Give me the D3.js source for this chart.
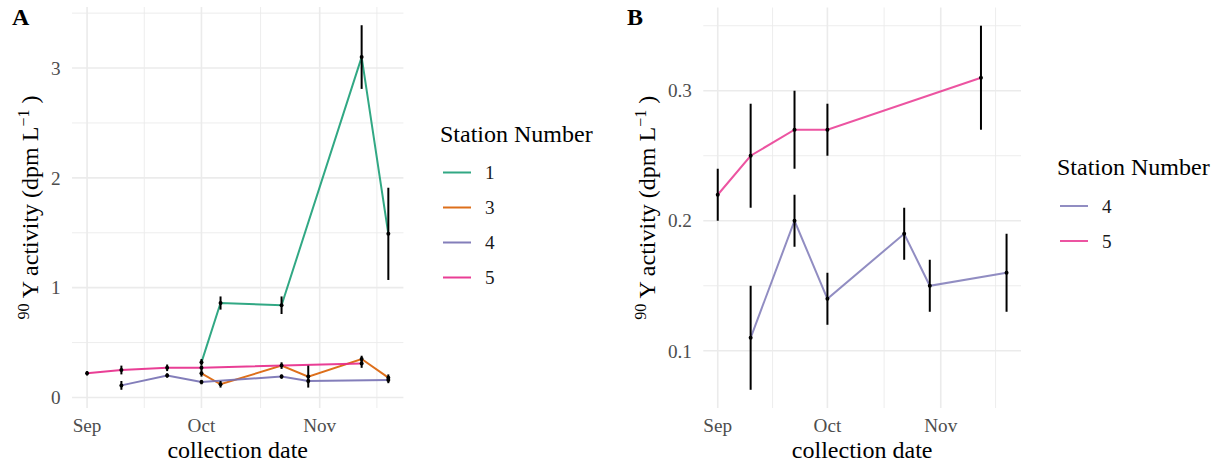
<!DOCTYPE html>
<html>
<head>
<meta charset="utf-8">
<script src="https://cdn.jsdelivr.net/npm/d3@7"></script>
<style>
  body { margin: 0; background: #fff; }
  svg, text, tspan { font-family: "Liberation Serif", "DejaVu Serif", serif; }
</style>
</head>
<body>
<svg id="chart" width="1219" height="465" font-family="Liberation Serif, serif"></svg>
<script>
// station series (dates, 90Y activity, +/- error)
var st1Dates = ["2019-10-01", "2019-10-06", "2019-10-22", "2019-11-12", "2019-11-19"];
var st1Vals = [0.32, 0.86, 0.84, 3.10, 1.49];
var st1Err = [0.03, 0.06, 0.08, 0.29, 0.42];

var st3Dates = ["2019-10-01", "2019-10-06", "2019-10-22", "2019-10-29", "2019-11-12", "2019-11-19"];
var st3Vals = [0.22, 0.12, 0.29, 0.19, 0.35, 0.18];
var st3Err = [0.03, 0.03, 0.03, 0.10, 0.03, 0.03];

var st4Dates = ["2019-09-10", "2019-09-22", "2019-10-01", "2019-10-22", "2019-10-29", "2019-11-19"];
var st4Vals = [0.11, 0.20, 0.14, 0.19, 0.15, 0.16];
var st4Err = [0.04, 0.02, 0.02, 0.02, 0.02, 0.03];

var st5Dates = ["2019-09-01", "2019-09-10", "2019-09-22", "2019-10-01", "2019-11-12"];
var st5Vals = [0.22, 0.25, 0.27, 0.27, 0.31];
var st5Err = [0.02, 0.04, 0.03, 0.02, 0.04];

var stationNames = ["1", "3", "4", "5"];
var stationColors = ["#1B9E77", "#D95F02", "#7570B3", "#E7298A"];

// tick labels
var xTickDates = ["2019-09-01", "2019-10-01", "2019-11-01"];
var xTickLabels = ["Sep", "Oct", "Nov"];
var yTicksA = [0, 1, 2, 3];
var yTicksB = [0.1, 0.2, 0.3];

var parse = d3.utcParse("%Y-%m-%d");
var svg = d3.select("#chart");
var FONT = "'Liberation Serif', 'DejaVu Serif', serif";

function makeSeries(idx, dates, vals, errs) {
	return {
		name: stationNames[idx],
		color: stationColors[idx],
		points: dates.map(function (d, i) {
			return { date: parse(d), v: vals[i], e: errs[i] };
		})
	};
}

var seriesAll = [
	makeSeries(0, st1Dates, st1Vals, st1Err),
	makeSeries(1, st3Dates, st3Vals, st3Err),
	makeSeries(2, st4Dates, st4Vals, st4Err),
	makeSeries(3, st5Dates, st5Vals, st5Err)
];

function drawPanel(opt) {
	var series = opt.series;
	var pts = [];
	series.forEach(function (s) { pts = pts.concat(s.points); });

	// ggplot style 5% expansion
	var tmin = d3.min(pts, function (d) { return +d.date; });
	var tmax = d3.max(pts, function (d) { return +d.date; });
	var tpad = (tmax - tmin) * 0.05;
	var ymin = d3.min(pts, function (d) { return d.v - d.e; });
	var ymax = d3.max(pts, function (d) { return d.v + d.e; });
	var ypad = (ymax - ymin) * 0.05;

	var x = d3.scaleUtc()
		.domain([new Date(tmin - tpad), new Date(tmax + tpad)])
		.range([opt.left, opt.right]);
	var y = d3.scaleLinear()
		.domain([ymin - ypad, ymax + ypad])
		.range([opt.bottom, opt.top]);

	var g = svg.append("g").attr("font-family", FONT);

	// minor grid: midpoints between major breaks
	var majX = xTickDates.map(parse);
	var extX = [d3.utcMonth.offset(majX[0], -1)].concat(majX, [d3.utcMonth.offset(majX[majX.length - 1], 1)]);
	var minX = [];
	for (var i = 0; i < extX.length - 1; i++) {
		minX.push(new Date((+extX[i] + +extX[i + 1]) / 2));
	}
	minX = minX.filter(function (d) { return d >= x.domain()[0] && d <= x.domain()[1]; });

	var yt = opt.yTicks;
	var step = yt[1] - yt[0];
	var minY = [];
	for (var k = -1; k < yt.length; k++) {
		var m = yt[0] + step * (k + 0.5);
		if (m >= y.domain()[0] && m <= y.domain()[1]) minY.push(m);
	}

	g.selectAll(".minx").data(minX).enter().append("line")
		.attr("x1", function (d) { return x(d); }).attr("x2", function (d) { return x(d); })
		.attr("y1", opt.top).attr("y2", opt.bottom)
		.attr("stroke", "#EBEBEB").attr("stroke-width", 0.9);
	g.selectAll(".miny").data(minY).enter().append("line")
		.attr("x1", opt.left).attr("x2", opt.right)
		.attr("y1", function (d) { return y(d); }).attr("y2", function (d) { return y(d); })
		.attr("stroke", "#EBEBEB").attr("stroke-width", 0.9);
	g.selectAll(".majx").data(majX).enter().append("line")
		.attr("x1", function (d) { return x(d); }).attr("x2", function (d) { return x(d); })
		.attr("y1", opt.top).attr("y2", opt.bottom)
		.attr("stroke", "#EBEBEB").attr("stroke-width", 1.6);
	g.selectAll(".majy").data(yt).enter().append("line")
		.attr("x1", opt.left).attr("x2", opt.right)
		.attr("y1", function (d) { return y(d); }).attr("y2", function (d) { return y(d); })
		.attr("stroke", "#EBEBEB").attr("stroke-width", 1.6);

	// tick labels
	g.selectAll(".xlab").data(majX).enter().append("text")
		.attr("x", function (d) { return x(d); })
		.attr("y", 432)
		.attr("text-anchor", "middle")
		.attr("font-size", "19.2px")
		.attr("fill", "#4D4D4D")
		.text(function (d, i) { return xTickLabels[i]; });
	g.selectAll(".ylab").data(yt).enter().append("text")
		.attr("x", opt.left - 11.4)
		.attr("y", function (d) { return y(d); })
		.attr("dy", "0.35em")
		.attr("text-anchor", "end")
		.attr("font-size", "19.2px")
		.attr("fill", "#4D4D4D")
		.text(function (d) { return opt.yFmt(d); });

	// lines
	var line = d3.line()
		.x(function (d) { return x(d.date); })
		.y(function (d) { return y(d.v); });
	g.selectAll(".series").data(series).enter().append("path")
		.attr("d", function (d) { return line(d.points); })
		.attr("fill", "none")
		.attr("stroke", function (d) { return d.color; })
		.attr("stroke-opacity", opt.lineOpacity)
		.attr("stroke-width", 2);

	// error bars + points
	g.selectAll(".err").data(pts).enter().append("line")
		.attr("x1", function (d) { return x(d.date); }).attr("x2", function (d) { return x(d.date); })
		.attr("y1", function (d) { return y(d.v - d.e); }).attr("y2", function (d) { return y(d.v + d.e); })
		.attr("stroke", "#000").attr("stroke-width", 2);
	g.selectAll(".pt").data(pts).enter().append("circle")
		.attr("cx", function (d) { return x(d.date); })
		.attr("cy", function (d) { return y(d.v); })
		.attr("r", 2)
		.attr("fill", "#000");

	// axis titles
	g.append("text")
		.attr("x", (opt.left + opt.right) / 2)
		.attr("y", 458)
		.attr("text-anchor", "middle")
		.attr("font-size", "24px")
		.attr("fill", "#000")
		.text("collection date");

	var yt2 = g.append("text")
		.attr("transform", "translate(" + opt.yTitleX + "," + ((opt.top + opt.bottom) / 2) + ") rotate(-90)")
		.attr("text-anchor", "middle")
		.attr("font-size", "24px")
		.attr("fill", "#000")
		.style("white-space", "pre");
	yt2.append("tspan").attr("font-size", "16px").attr("dy", -9).text("90");
	yt2.append("tspan").attr("dy", 9).text(" Y activity (dpm L");
	yt2.append("tspan").attr("font-size", "16px").attr("dy", -9).text("\u22121");
	yt2.append("tspan").attr("dy", 9).text(" )");

	// panel tag
	g.append("text")
		.attr("x", opt.tagX)
		.attr("y", 25)
		.attr("font-size", "24px")
		.attr("font-weight", "bold")
		.attr("fill", "#000")
		.text(opt.tag);

	// legend
	var lg = g.append("g");
	lg.append("text")
		.attr("x", opt.legX)
		.attr("y", opt.legY)
		.attr("font-size", "24px")
		.attr("fill", "#000")
		.text("Station Number");
	series.forEach(function (s, i) {
		var ky = opt.legY + 31 + i * 35;
		lg.append("line")
			.attr("x1", opt.legX + 3).attr("x2", opt.legX + 31)
			.attr("y1", ky).attr("y2", ky)
			.attr("stroke", s.color)
			.attr("stroke-opacity", opt.lineOpacity)
			.attr("stroke-width", 2);
		lg.append("text")
			.attr("x", opt.legX + 45)
			.attr("y", ky)
			.attr("dy", "0.35em")
			.attr("font-size", "19.2px")
			.attr("fill", "#1A1A1A")
			.text(s.name);
	});
}

drawPanel({
	series: seriesAll,
	left: 72, right: 403.4, top: 7, bottom: 408,
	yTicks: yTicksA,
	yFmt: d3.format("d"),
	yTitleX: 38,
	tag: "A", tagX: 12,
	legX: 440, legY: 141.5,
	lineOpacity: 0.9
});

drawPanel({
	series: [seriesAll[2], seriesAll[3]],
	left: 703.3, right: 1021, top: 7.5, bottom: 408,
	yTicks: yTicksB,
	yFmt: d3.format(".1f"),
	yTitleX: 655,
	tag: "B", tagX: 627,
	legX: 1057, legY: 175,
	lineOpacity: 0.8
});
</script>
</body>
</html>
